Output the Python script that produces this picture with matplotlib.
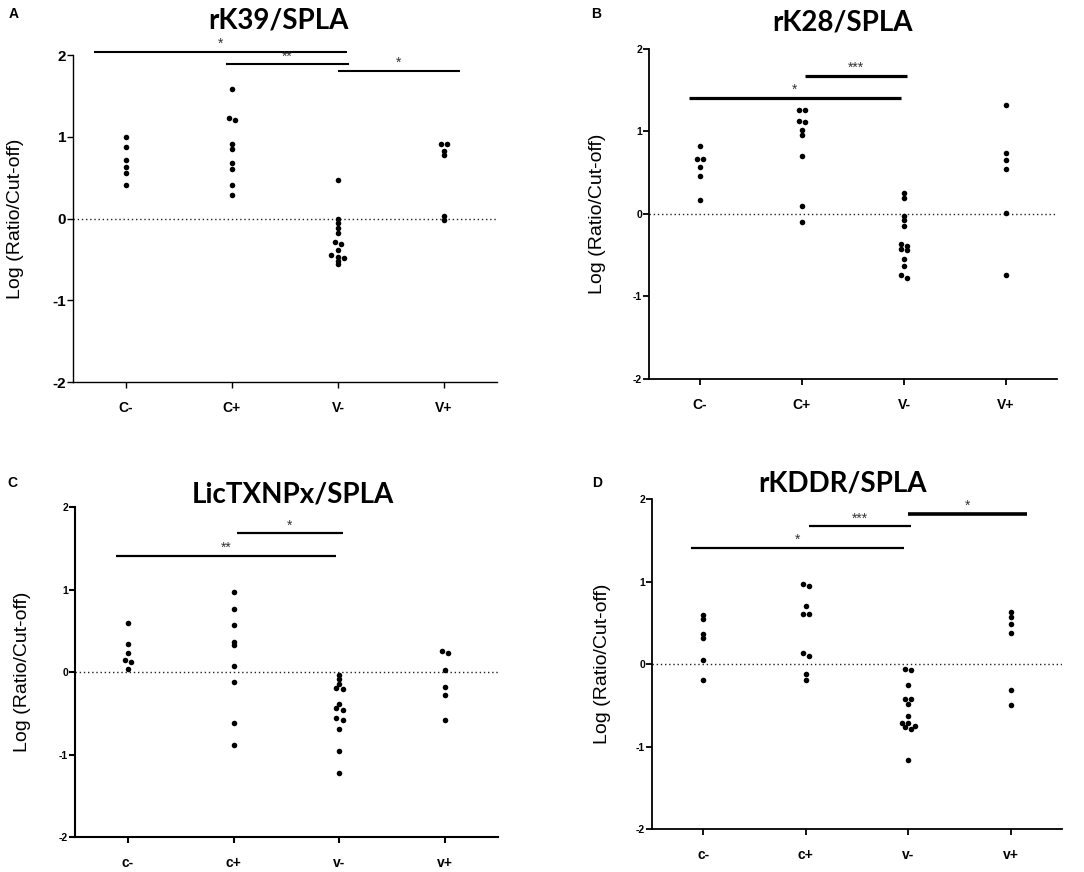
import matplotlib
matplotlib.use("Agg")
import matplotlib.pyplot as plt

plt.rcParams['font.family'] = ['Liberation Sans', 'DejaVu Sans']
plt.rcParams['axes.unicode_minus'] = False

# values, log(ratio / cut-off)
a_cm = [1.00, 0.88, 0.71, 0.63, 0.56, 0.41]
a_cp = [1.59, 1.21, 1.23, 0.91, 0.85, 0.68, 0.60, 0.41, 0.29]
a_vm = [0.47, -0.01, -0.05, -0.12, -0.18, -0.29, -0.31, -0.38, -0.45, -0.47, -0.48, -0.52, -0.56]
a_vp = [0.91, 0.91, 0.83, 0.78, 0.03, -0.02]

b_cm = [0.82, 0.67, 0.67, 0.57, 0.46, 0.17]
b_cp = [1.26, 1.26, 1.13, 1.11, 1.02, 0.96, 0.70, 0.10, -0.10]
b_vm = [0.26, 0.19, -0.03, -0.07, -0.14, -0.36, -0.39, -0.44, -0.43, -0.55, -0.63, -0.74, -0.77]
b_vp = [1.32, 0.74, 0.65, 0.55, 0.01, -0.74]

c_cm = [0.60, 0.34, 0.23, 0.15, 0.125, 0.04]
c_cp = [0.97, 0.77, 0.57, 0.37, 0.33, 0.07, -0.125, -0.62, -0.89]
c_vm = [-0.03, -0.08, -0.15, -0.19, -0.21, -0.39, -0.44, -0.46, -0.56, -0.58, -0.69, -0.96, -1.22]
c_vp = [0.26, 0.23, 0.02, -0.18, -0.28, -0.58]

d_cm = [0.59, 0.55, 0.36, 0.32, 0.05, -0.19]
d_cp = [0.97, 0.95, 0.70, 0.61, 0.61, 0.13, 0.10, -0.125, -0.19]
d_vm = [-0.06, -0.07, -0.26, -0.42, -0.43, -0.48, -0.63, -0.72, -0.72, -0.75, -0.76, -0.79, -1.16]
d_vp = [0.63, 0.57, 0.48, 0.38, -0.31, -0.50]

upper_labels = ['C-', 'C+', 'V-', 'V+']
lower_labels = ['c-', 'c+', 'v-', 'v+']

# significance brackets: (x start, x end, y, stars)
a_sig = [(-0.30, 2.09, 2.04, '*'), (0.94, 2.10, 1.89, '**'), (2.00, 3.15, 1.81, '*')]
b_sig = [(1.03, 2.03, 1.675, '***'), (-0.11, 1.97, 1.41, '*')]
c_sig = [(1.03, 2.03, 1.68, '*'), (-0.11, 1.97, 1.41, '**')]
d_sig = [(2.00, 3.16, 1.82, '*'), (1.03, 2.03, 1.67, '***'), (-0.12, 1.96, 1.41, '*')]


def swarm(vals, step=0.062, thr=0.035):
    # spread near-equal values sideways like a dot plot
    order = sorted(range(len(vals)), key=lambda i: -vals[i])
    offs = [0.0] * len(vals)
    groups = []
    for i in order:
        if groups and vals[groups[-1][0]] - vals[i] < thr:
            groups[-1].append(i)
        else:
            groups.append([i])
    for g in groups:
        n = len(g)
        for k, i in enumerate(g):
            offs[i] = (k - (n - 1) / 2) * step
    return offs


def panel(rect, groups, labels, sig, sig_lw, title, title_xy, letter, letter_xy,
          ytick_size, spine_lw, label_x):
    ax = fig.add_axes(rect)
    for pos, vals in enumerate(groups):
        offs = swarm(vals)
        ax.scatter([pos + o for o in offs], vals, s=16, c='black', linewidths=0, zorder=3)
    ax.axhline(0, color='#222222', lw=1.0, ls=(0, (1, 2)), zorder=1)
    ax.set_xlim(-0.5, 3.5)
    ax.set_ylim(-2, 2)
    ax.set_yticks([-2, -1, 0, 1, 2])
    ax.set_xticks(range(4))
    ax.set_xticklabels(labels, fontsize=10, fontweight='bold')
    for t in ax.get_yticklabels():
        t.set_fontsize(ytick_size)
        t.set_fontweight('bold')
    for s in ['top', 'right']:
        ax.spines[s].set_visible(False)
    for s in ['left', 'bottom']:
        ax.spines[s].set_linewidth(spine_lw)
    ax.tick_params(axis='y', length=4, width=spine_lw, pad=1)
    ax.tick_params(axis='x', length=4, width=spine_lw, pad=10)
    ax.set_ylabel('Log (Ratio/Cut-off)', fontsize=14)
    ax.yaxis.set_label_coords(label_x, 0.5)
    for (x1, x2, y, stars), lw in zip(sig, sig_lw):
        ax.plot([x1, x2], [y, y], color='black', lw=lw, clip_on=False, solid_capstyle='butt')
        ax.annotate(stars, ((x1 + x2) / 2, y), xytext=(0, 0.5), textcoords='offset points',
                    ha='center', va='bottom', fontsize=10, color='#333333', annotation_clip=False)
    fig.text(title_xy[0] / 1084, 1 - title_xy[1] / 872, title, family=['Lato', 'DejaVu Sans'],
             fontsize=20, fontweight='bold', ha='center', va='center')
    fig.text(letter_xy[0] / 1084, 1 - letter_xy[1] / 872, letter, fontsize=10,
             fontweight='bold', ha='center', va='center')
    return ax


fig = plt.figure(figsize=(10.84, 8.72), dpi=100)

panel([0.0673, 0.5619, 0.3911, 0.3750], [a_cm, a_cp, a_vm, a_vp], upper_labels, a_sig,
      [1.5, 1.5, 1.5], 'rK39/SPLA', (278, 20), 'A', (14, 14), 11, 1.0, -0.116)
panel([0.5987, 0.5654, 0.3764, 0.3784], [b_cm, b_cp, b_vm, b_vp], upper_labels, b_sig,
      [2.3, 2.3], 'rK28/SPLA', (842, 22), 'B', (596, 14), 7.5, 1.3, -0.105)
panel([0.0692, 0.0401, 0.3902, 0.3784], [c_cm, c_cp, c_vm, c_vp], lower_labels, c_sig,
      [1.6, 1.6], 'LicTXNPx/SPLA', (293, 495), 'C', (12, 483), 7.5, 1.5, -0.104)
panel([0.6015, 0.0493, 0.3782, 0.3784], [d_cm, d_cp, d_vm, d_vp], lower_labels, d_sig,
      [2.6, 1.6, 1.6], 'rKDDR/SPLA', (843, 483), 'D', (597, 483), 7.5, 1.3, -0.100)

plt.savefig('out.png', dpi=100, facecolor='white')
